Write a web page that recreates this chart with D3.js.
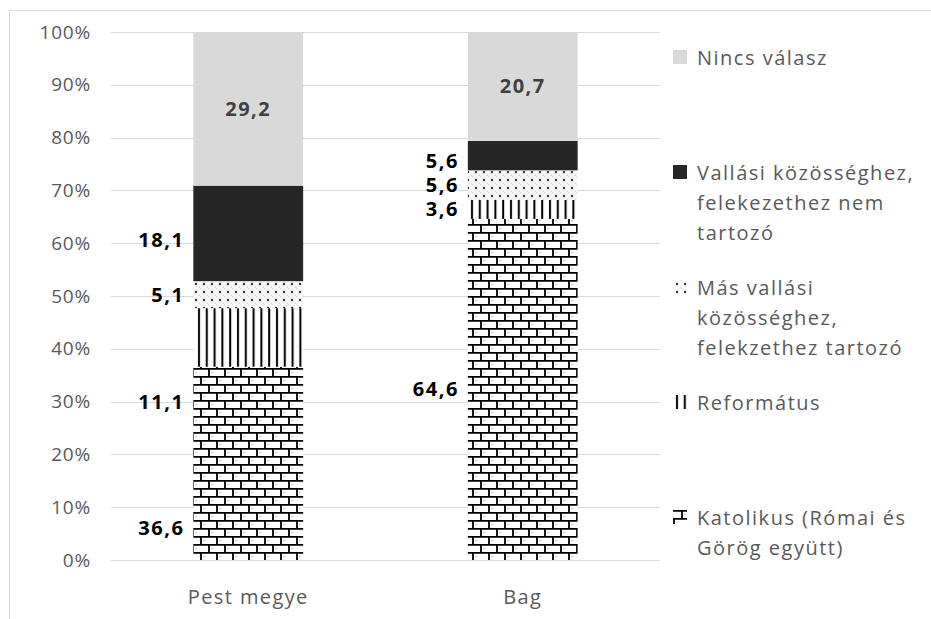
<!DOCTYPE html>
<html>
<head>
<meta charset="utf-8">
<script src="https://cdn.jsdelivr.net/npm/d3@7"></script>
<style>
  body { margin: 0; background: #fff; }
  svg text { font-family: "Open Sans", "DejaVu Sans", sans-serif; }
</style>
</head>
<body>
<div id="chart"></div>
<script>
// data
var categories = ["Pest megye", "Bag"];
var seriesNames = ["Katolikus", "Református", "Más", "Nem tartozó", "Nincs válasz"];
var katolikus = [36.6, 64.6];
var reformatus = [11.1, 3.6];
var mas = [5.1, 5.6];
var nemTartozo = [18.1, 5.6];
var nincsValasz = [29.2, 20.7];
var yTicks = [0, 0.1, 0.2, 0.3, 0.4, 0.5, 0.6, 0.7, 0.8, 0.9, 1];
var legendLabels = [
  ["Nincs válasz"],
  ["Vallási közösséghez,", "felekezethez nem", "tartozó"],
  ["Más vallási", "közösséghez,", "felekzethez tartozó"],
  ["Református"],
  ["Katolikus (Római és", "Görög együtt)"]
];

// layout tweaks for labels that Excel had moved by hand (px)
var labelDy = [[65, 0], [65, 0], [0, 0], [7, 5], [0, 0]];

var W = 931, H = 619;
var svg = d3.select("#chart").append("svg")
  .attr("width", W).attr("height", H);

var defs = svg.append("defs");

// brick pattern (Katolikus)
var brick = defs.append("pattern").attr("id", "brick")
  .attr("patternUnits", "userSpaceOnUse").attr("width", 16).attr("height", 16);
brick.append("rect").attr("width", 16).attr("height", 16).attr("fill", "#fff");
brick.append("circle").attr("cx", 4).attr("cy", 4.5).attr("r", 0.9).attr("fill", "#ccc");
brick.append("circle").attr("cx", 12).attr("cy", 12.5).attr("r", 0.9).attr("fill", "#ccc");
brick.append("path")
  .attr("d", "M0,0.9H16M0,8.9H16M1,0V8M9,8V16")
  .attr("stroke", "#000").attr("stroke-width", 1.8).attr("fill", "none");

// vertical lines (Református)
var vert = defs.append("pattern").attr("id", "vert")
  .attr("patternUnits", "userSpaceOnUse").attr("width", 7.8).attr("height", 8);
vert.append("rect").attr("width", 7.8).attr("height", 8).attr("fill", "#fff");
vert.append("rect").attr("x", 3).attr("width", 2).attr("height", 8).attr("fill", "#000");

// dots (Más)
var dots = defs.append("pattern").attr("id", "dots")
  .attr("patternUnits", "userSpaceOnUse").attr("width", 8).attr("height", 8);
dots.append("rect").attr("width", 8).attr("height", 8).attr("fill", "#f7f7f7");
dots.append("circle").attr("cx", 4).attr("cy", 4).attr("r", 1.2).attr("fill", "#333");
dots.append("circle").attr("cx", 0).attr("cy", 0).attr("r", 0.8).attr("fill", "#bbb");
dots.append("circle").attr("cx", 8).attr("cy", 8).attr("r", 0.8).attr("fill", "#bbb");

var fills = ["url(#brick)", "url(#vert)", "url(#dots)", "#262626", "#d9d9d9"];
var legendFills = ["#d9d9d9", "#262626", "url(#dots)", "url(#vert)", "url(#brick)"];

// outer frame
svg.append("rect")
  .attr("x", 9.5).attr("y", 10.5).attr("width", 940).attr("height", 640)
  .attr("fill", "none").attr("stroke", "#d9d9d9");

var x = d3.scaleBand().domain(categories).range([111, 660]).paddingInner(0).paddingOuter(0);
var y = d3.scaleLinear().domain([0, 1]).range([560, 32]);

// grid
svg.append("g").selectAll("line").data(yTicks).enter().append("line")
  .attr("x1", 111).attr("x2", 660)
  .attr("y1", function(d) { return Math.round(y(d)) + 0.5; })
  .attr("y2", function(d) { return Math.round(y(d)) + 0.5; })
  .attr("stroke", "#d9d9d9").attr("stroke-width", 1);

// y axis
var yAxis = svg.append("g").attr("transform", "translate(91,0)")
  .call(d3.axisLeft(y).tickValues(yTicks).tickFormat(d3.format(".0%")).tickSize(0).tickPadding(0));
yAxis.select(".domain").remove();
yAxis.selectAll("text").attr("font-size", 19).attr("fill", "#595959")
  .style("font-family", "\"Open Sans\", sans-serif").style("letter-spacing", "0.8px");

// x axis
var xAxis = svg.append("g").attr("transform", "translate(0,560)")
  .call(d3.axisBottom(x).tickSize(0).tickPadding(30));
xAxis.select(".domain").remove();
xAxis.selectAll("text").attr("font-size", 20).attr("fill", "#595959")
  .style("font-family", "\"Open Sans\", sans-serif").style("letter-spacing", "1.4px");

// stack
var series = [katolikus, reformatus, mas, nemTartozo, nincsValasz];
var rows = categories.map(function(c, i) {
  var r = { cat: c };
  seriesNames.forEach(function(s, k) { r[s] = series[k][i]; });
  return r;
});
var stacked = d3.stack().keys(seriesNames)(rows);

var barW = x.bandwidth() * 0.4;
var barX = function(c) { return x(c) + (x.bandwidth() - barW) / 2; };

var layers = svg.append("g").selectAll("g").data(stacked).enter().append("g")
  .attr("fill", function(d, i) { return fills[i]; });

layers.selectAll("rect").data(function(d) { return d; }).enter().append("rect")
  .attr("x", function(d) { return barX(d.data.cat); })
  .attr("width", barW)
  .attr("y", function(d) { return y(Math.min(d[1], 100) / 100); })
  .attr("height", function(d) { return y(d[0] / 100) - y(Math.min(d[1], 100) / 100); });

// data labels
var fmt = function(v) { return String(v).replace(".", ","); };
stacked.forEach(function(layer, k) {
  layer.forEach(function(d, i) {
    var mid = (y(d[0] / 100) + y(Math.min(d[1], 100) / 100)) / 2 + labelDy[k][i];
    var inside = k === stacked.length - 1;
    svg.append("text")
      .attr("x", inside ? x(d.data.cat) + x.bandwidth() / 2 : barX(d.data.cat) - 9)
      .attr("y", mid)
      .attr("dy", "0.35em")
      .attr("text-anchor", inside ? "middle" : "end")
      .attr("font-size", 20).attr("font-weight", "bold")
      .style("letter-spacing", "1.5px")
      .attr("fill", inside ? "#404040" : "#000")
      .text(fmt(d.data[layer.key]));
  });
});

// legend
var legY = d3.scaleLinear().domain([0, 4]).range([58, 518]);
var leg = svg.append("g").selectAll("g").data(legendLabels).enter().append("g")
  .attr("transform", function(d, i) { return "translate(673," + legY(i) + ")"; });
leg.append("rect")
  .attr("x", 0).attr("y", -8).attr("width", 14).attr("height", 14)
  .attr("fill", function(d, i) { return legendFills[i]; });
leg.each(function(lines) {
  var t = d3.select(this).append("text")
    .attr("x", 24).attr("y", 0)
    .attr("font-size", 20).attr("fill", "#595959")
    .style("letter-spacing", "1.5px");
  lines.forEach(function(l, j) {
    t.append("tspan").attr("x", 24).attr("dy", j === 0 ? "0.35em" : 30).text(l);
  });
});
</script>
</body>
</html>
